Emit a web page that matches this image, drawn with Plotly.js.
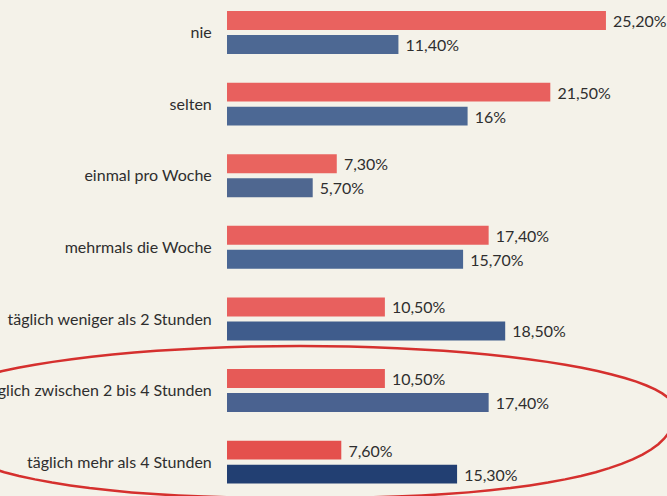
<!DOCTYPE html>
<html>
<head>
<meta charset="utf-8">
<script src="https://cdn.plot.ly/plotly-3.0.1.min.js"></script>
<style>
  html, body { margin: 0; padding: 0; background: #f4f2e9; }
  #chart { width: 667px; height: 496px; }
</style>
</head>
<body>
<div id="chart"></div>
<script>
const categories = [
  "nie",
  "selten",
  "einmal pro Woche",
  "mehrmals die Woche",
  "täglich weniger als 2 Stunden",
  "täglich zwischen 2 bis 4 Stunden",
  "täglich mehr als 4 Stunden"
];
const redValues = [25.2, 21.5, 7.3, 17.4, 10.5, 10.5, 7.6];
const blueValues = [11.4, 16, 5.7, 15.7, 18.5, 17.4, 15.3];
const redLabels = ["25,20%", "21,50%", "7,30%", "17,40%", "10,50%", "10,50%", "7,60%"];
const blueLabels = ["11,40%", "16%", "5,70%", "15,70%", "18,50%", "17,40%", "15,30%"];

const redColors = ["#e9625f", "#e8605e", "#e9645f", "#e8605e", "#e8605e", "#e65a57", "#e4504d"];
const blueColors = ["#4d6893", "#4c6894", "#4f6790", "#4a6794", "#3f5c8c", "#4a6290", "#223f72"];

const font = "Lato, 'Open Sans', sans-serif";

const traces = [
  {
    type: "bar", orientation: "h", y: categories, x: redValues,
    text: redLabels, texttemplate: " %{text}", textposition: "outside", cliponaxis: false,
    textfont: { family: font, size: 16, color: "#2e2e2e" },
    marker: { color: redColors, line: { width: 0 } },
    hoverinfo: "skip"
  },
  {
    type: "bar", orientation: "h", y: categories, x: blueValues,
    text: blueLabels, texttemplate: " %{text}", textposition: "outside", cliponaxis: false,
    textfont: { family: font, size: 16, color: "#2e2e2e" },
    marker: { color: blueColors, line: { width: 0 } },
    hoverinfo: "skip"
  }
];

// hand-drawn-looking oval around the last two categories (pixel geometry -> paper coords)
const W = 667, H = 496, ML = 227, PW = 440;
function ovalPath(cx, cy, a, bTop, bBottom, nTop, nBottom) {
  let d = "";
  const N = 96;
  for (let i = 0; i <= N; i++) {
    const u = (i / N) * 2 * Math.PI;
    const c = Math.cos(u), s = Math.sin(u);
    const lower = s > 0;
    const n = lower ? nBottom : nTop;
    const b = lower ? bBottom : bTop;
    const px = cx + a * Math.sign(c) * Math.pow(Math.abs(c), 2 / n);
    const py = cy + b * Math.sign(s) * Math.pow(Math.abs(s), 2 / n);
    const xp = ((px - ML) / PW).toFixed(4);
    const yp = (1 - py / H).toFixed(4);
    d += (i === 0 ? "M" : "L") + xp + "," + yp + " ";
  }
  return d + "Z";
}

const layout = {
  width: W, height: H,
  margin: { l: ML, r: 0, t: 0, b: 0 },
  paper_bgcolor: "#f4f2e9",
  plot_bgcolor: "#f4f2e9",
  barmode: "group",
  bargap: 0.33,
  bargroupgap: 0.21,
  showlegend: false,
  font: { family: font, size: 16, color: "#2e2e2e" },
  xaxis: {
    range: [0, 29.26], showgrid: false, zeroline: false,
    showticklabels: false, showline: false, fixedrange: true
  },
  yaxis: {
    type: "category",
    range: [6.473, -0.454],
    showgrid: false, zeroline: false, showline: false,
    ticks: "outside", ticklen: 11, tickcolor: "rgba(0,0,0,0)",
    tickfont: { family: font, size: 16, color: "#2e2e2e" },
    fixedrange: true
  },
  shapes: [
    {
      type: "path", xref: "paper", yref: "paper",
      path: ovalPath(300, 410, 375, 64, 88, 2, 2.4),
      line: { color: "#d5302e", width: 2.5 },
      fillcolor: "rgba(0,0,0,0)"
    }
  ]
};

Plotly.newPlot("chart", traces, layout, { staticPlot: true, displayModeBar: false });
</script>
</body>
</html>
